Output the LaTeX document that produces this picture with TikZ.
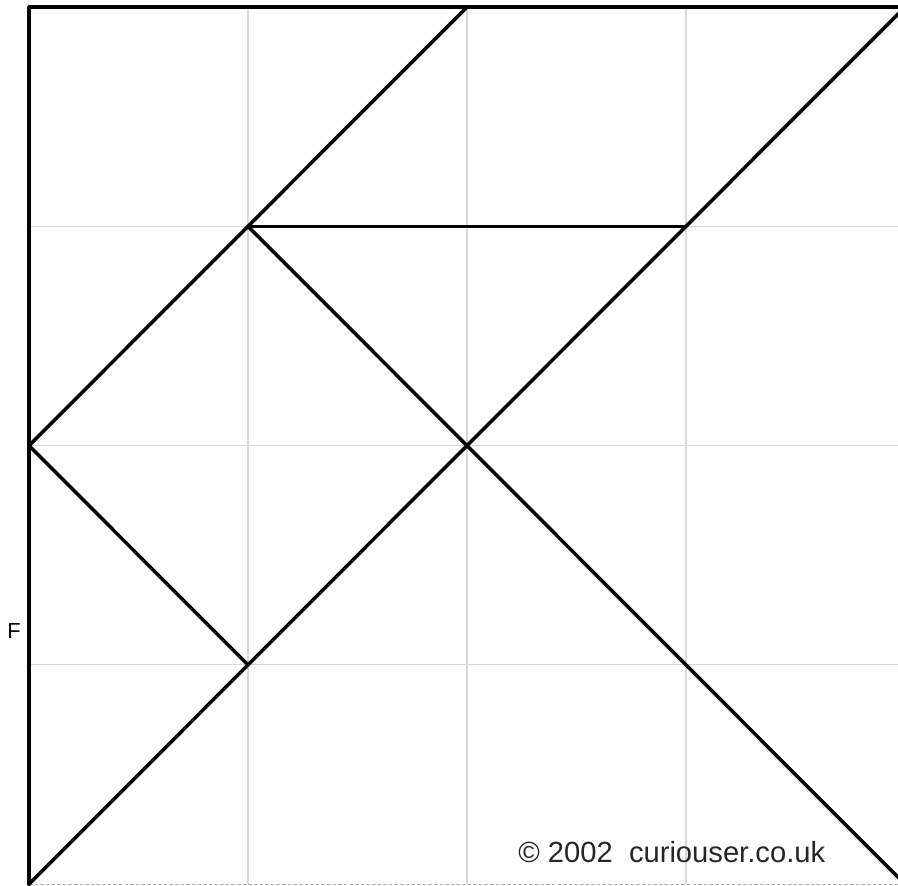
\documentclass[tikz,border=0pt]{standalone}
\usepackage{fontspec}
\setmainfont{Liberation Sans}

\begin{document}
\begin{tikzpicture}[x=2.19cm,y=-2.193cm,
    gridline/.style={gray!30,line width=0.3pt},
    piece/.style={black,line width=1pt,line cap=round,line join=round},
    baseline/.style={gray!60,dashed,line width=0.3pt,dash pattern=on 1pt off 0.6pt},
    credit/.style={font=\fontsize{8.3}{9}\selectfont,text=black!85,inner sep=0pt},
    letter/.style={font=\fontsize{6.2}{7}\selectfont,inner sep=0pt}]
    \useasboundingbox (-0.29cm,0.07cm) rectangle (8.69cm,-8.78cm);
    \clip (-0.29cm,0.07cm) rectangle (8.69cm,-8.78cm);
    % grid points
    \foreach \i in {0,...,4}
        \foreach \j in {0,...,4}
            \coordinate (p\i\j) at (\i,\j);
    % light grid
    \foreach \i in {1,2,3}
    {
        \draw[gridline] (p\i0) -- (p\i4);
        \draw[gridline] (p0\i) -- (p4\i);
    }
    % outline
    \draw[baseline] (p04) -- (p44);
    \draw[piece] (p04) -- (p00) -- (p40);
    % cuts
    \draw[piece] (p20) -- (p02);
    \draw[piece] (p40) -- (p04);
    \draw[piece] (p11) -- (p31);
    \draw[piece] (p11) -- (p44);
    \draw[piece] (p02) -- (p13);
    % labels
    \node[letter] (f) at (-0.068,2.845) {F};
    \node[credit] (copy) at (2.935,3.853) {© 2002\ \ curiouser.co.uk};
\end{tikzpicture}
\end{document}
